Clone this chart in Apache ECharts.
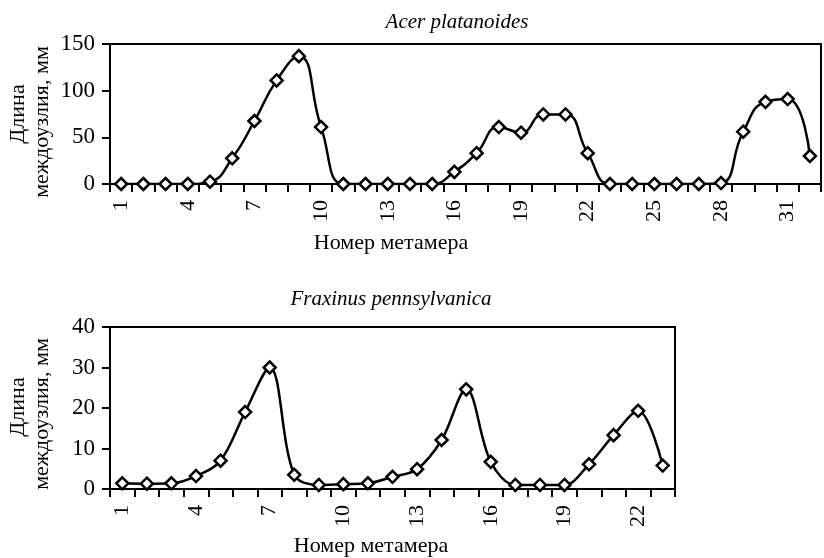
<!DOCTYPE html>
<html>
<head>
<meta charset="utf-8">
<script src="https://cdn.jsdelivr.net/npm/echarts@6/dist/echarts.min.js"></script>
<style>
  html, body { margin: 0; padding: 0; background: #fff; }
  #chart { width: 824px; height: 558px; }
</style>
</head>
<body>
<div id="chart"></div>
<script>
// номера метамеров
const metamerAcer = ['1', '2', '3', '4', '5', '6', '7', '8', '9', '10', '11', '12', '13', '14', '15', '16',
  '17', '18', '19', '20', '21', '22', '23', '24', '25', '26', '27', '28', '29', '30', '31', '32']
const metamerFraxinus = ['1', '2', '3', '4', '5', '6', '7', '8', '9', '10', '11', '12',
  '13', '14', '15', '16', '17', '18', '19', '20', '21', '22', '23']

// длина междоузлия, мм
const acerLength = [0, 0, 0, 0, 2.5, 27.5, 67.5, 111, 137, 61, 0, 0, 0, 0, 0, 13,
  33, 61, 55, 74.5, 74.5, 33, 0, 0, 0, 0, 0, 1, 56, 88, 91, 30]
const fraxinusLength = [1.4, 1.3, 1.4, 3.2, 7, 19, 30, 3.5, 1, 1.2, 1.4, 3,
  4.9, 12.1, 24.6, 6.7, 1, 1, 1, 6.1, 13.3, 19.3, 5.8]

const acerTicks = { min: 0, max: 150, interval: 50 }
const fraxinusTicks = { min: 0, max: 40, interval: 10 }

const serif = "'Liberation Serif', 'Times New Roman', serif"
const black = '#000'

const chart = echarts.init(document.getElementById('chart'))

function xAxisOf(gridIndex, data) {
  return {
    type: 'category',
    gridIndex: gridIndex,
    data: data,
    boundaryGap: true,
    axisLine: { lineStyle: { color: black, width: 2 } },
    axisTick: { show: true, length: 8, inside: false, interval: 0, lineStyle: { color: black, width: 2 } },
    axisLabel: {
      interval: 2,
      rotate: 90,
      margin: 16,
      color: black,
      fontFamily: serif,
      fontSize: 22
    }
  }
}

function yAxisOf(gridIndex, ticks) {
  return {
    type: 'value',
    gridIndex: gridIndex,
    min: ticks.min,
    max: ticks.max,
    interval: ticks.interval,
    axisLine: { show: true, lineStyle: { color: black, width: 2 } },
    axisTick: { show: true, length: 8, lineStyle: { color: black, width: 2 } },
    splitLine: { show: false },
    axisLabel: { margin: 15, color: black, fontFamily: serif, fontSize: 23 }
  }
}

function seriesOf(index, data, smooth) {
  return {
    type: 'line',
    xAxisIndex: index,
    yAxisIndex: index,
    data: data,
    smooth: smooth,
    symbol: 'diamond',
    symbolSize: 12,
    lineStyle: { color: black, width: 2.5 },
    itemStyle: { color: '#fff', borderColor: black, borderWidth: 2.5 },
    z: 3
  }
}

function label(text, x, y, opts) {
  opts = opts || {}
  return {
    type: 'text',
    x: x,
    y: y,
    rotation: opts.rotation || 0,
    style: {
      text: text,
      x: 0,
      y: 0,
      fill: black,
      font: (opts.italic ? 'italic ' : '') + (opts.size || 22) + 'px ' + serif,
      align: 'center',
      verticalAlign: 'middle',
      textAlign: 'center',
      textVerticalAlign: 'middle'
    }
  }
}

let option = {
  backgroundColor: '#fff',
  animation: false,
  grid: [
    { left: 110, top: 44, width: 711, height: 140, show: true, borderColor: black, borderWidth: 2 },
    { left: 110, top: 327, width: 565, height: 162, show: true, borderColor: black, borderWidth: 2 }
  ],
  xAxis: [xAxisOf(0, metamerAcer), xAxisOf(1, metamerFraxinus)],
  yAxis: [yAxisOf(0, acerTicks), yAxisOf(1, fraxinusTicks)],
  series: [seriesOf(0, acerLength, 0.5), seriesOf(1, fraxinusLength, 0.35)],
  graphic: [
    label('Acer platanoides', 457, 22, { italic: true, size: 21 }),
    label('Fraxinus pennsylvanica', 391, 299, { italic: true, size: 21 }),
    label('Номер метамера', 391, 243),
    label('Номер метамера', 371, 546),
    label('Длина', 18, 114, { rotation: Math.PI / 2 }),
    label('междоузлия, мм', 42, 122, { rotation: Math.PI / 2 }),
    label('Длина', 18, 407, { rotation: Math.PI / 2 }),
    label('междоузлия, мм', 42, 414, { rotation: Math.PI / 2 })
  ]
}

option && chart.setOption(option)
</script>
</body>
</html>
